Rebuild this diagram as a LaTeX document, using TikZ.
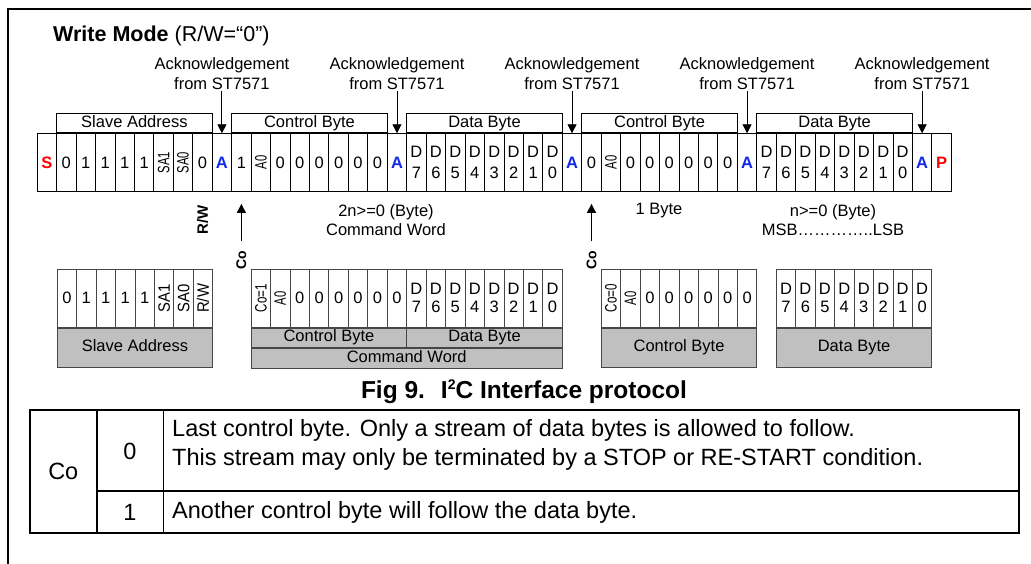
\documentclass[tikz,border=0pt]{standalone}
\usepackage{fontspec}
\setmainfont{Liberation Sans}
\usepackage{graphicx}
\usepackage{tikz}
\usetikzlibrary{arrows.meta, positioning}
\usepackage{xcolor}

\definecolor{ackblue}{RGB}{20,40,235}
\definecolor{boxgray}{RGB}{192,192,192}
\definecolor{edgegray}{RGB}{70,70,70}

\newcommand{\vtxt}[2][0.68]{\rotatebox{90}{\scalebox{#1}[1]{#2}}}
\newcommand{\sbit}{\textcolor{red}{\textbf{S}}}
\newcommand{\pbit}{\textcolor{red}{\textbf{P}}}
\newcommand{\abit}{\textcolor{ackblue}{\textbf{A}}}

\begin{document}
\begin{tikzpicture}[x=1pt, y=-1pt,
    bit/.style={draw, line width=0.9pt, minimum width=19.45pt, minimum height=57.7pt,
        inner sep=0pt, anchor=north west, align=center, font=\fontsize{16.5}{21}\selectfont},
    lowbit/.style={bit, draw=edgegray, font=\fontsize{16.5}{18}\selectfont},
    hdr/.style={draw, line width=0.9pt, minimum height=19.3pt, minimum width=155.6pt,
        inner sep=0pt, text height=12pt, text depth=3.5pt, anchor=south west,
        font=\fontsize{16.5}{20}\selectfont},
    bar/.style={draw=edgegray, fill=boxgray, line width=0.9pt, inner sep=0pt,
        text height=12pt, text depth=3.5pt, anchor=north west,
        font=\fontsize{16.5}{20}\selectfont},
    acklbl/.style={align=center, inner sep=1pt, font=\fontsize{16.5}{20}\selectfont},
    note/.style={align=center, inner sep=0pt, font=\fontsize{16.5}{19}\selectfont},
    side/.style={rotate=90, inner sep=1pt, font=\bfseries\fontsize{15}{18}\selectfont},
    arr/.style={line width=0.9pt, -{Triangle[length=9pt, width=9pt]}},
    cell/.style={inner sep=0pt, font=\fontsize{23.5}{28}\selectfont}]

    \useasboundingbox (0,0) rectangle (1031,564);

    % Frame
    \draw[line width=2pt] (8,600) -- (8,9) -- (1100,9);

    \node[anchor=base west, inner sep=0pt, font=\fontsize{21.5}{26}\selectfont] (title)
        at (53,42) {\textbf{Write Mode} (R/W=“0”)};

    % Bit stream
    \foreach \t [count=\i from 0] in {\sbit,0,1,1,1,1,{\vtxt{SA1}},{\vtxt{SA0}},0,\abit,
        1,{\vtxt{A0}},0,0,0,0,0,0,\abit,
        {D\\7},{D\\6},{D\\5},{D\\4},{D\\3},{D\\2},{D\\1},{D\\0},\abit,
        0,{\vtxt{A0}},0,0,0,0,0,0,\abit,
        {D\\7},{D\\6},{D\\5},{D\\4},{D\\3},{D\\2},{D\\1},{D\\0},\abit,\pbit}
        \node[bit] (c\i) at (36.7+19.45*\i, 133.3) {\t};

    % Byte headers
    \node[hdr] (hsa) at (c1.north west) {Slave Address};
    \node[hdr] (hcb1) at (c10.north west) {Control Byte};
    \node[hdr] (hdb1) at (c19.north west) {Data Byte};
    \node[hdr] (hcb2) at (c28.north west) {Control Byte};
    \node[hdr] (hdb2) at (c37.north west) {Data Byte};

    % Acknowledge arrows
    \foreach \a/\k in {9/1, 18/2, 27/3, 36/4, 45/5} {
        \node[acklbl] (k\k) at (c\a.north |- 0,74) {Acknowledgement\\from ST7571};
        \draw[arr] (k\k) -- (c\a.north);
    }

    % Labels under the stream
    \node[side] (rw) at (c8.south |- 0,220) {R/W};
    \node[side, font=\bfseries\fontsize{14}{16}\selectfont] (co1) at (c10.south |- 0,260) {Co};
    \node[side, font=\bfseries\fontsize{14}{16}\selectfont] (co2) at (c28.south |- 0,260) {Co};
    \coordinate (t1) at ([yshift=-12pt]c10.south);
    \coordinate (t2) at ([yshift=-12pt]c28.south);
    \draw[arr, shorten <=8pt] (co1.east) -- (t1);
    \draw[arr, shorten <=8pt] (co2.east) -- (t2);

    \node[note] (n1) at (386,220.5) {2n>=0 (Byte)\\Command Word};
    \node[note] (n2) at (659,211) {1 Byte};
    \node[note] (n3) at (833,220.5) {n>=0 (Byte)\\MSB…………..LSB};

    % Slave address block
    \foreach \t [count=\i from 0] in {0,1,1,1,1,{\vtxt[0.9]{SA1}},{\vtxt[0.9]{SA0}},{\vtxt[0.9]{R/W}}}
        \node[lowbit] (s\i) at (56.7+19.45*\i, 269) {\t};
    \node[bar, minimum width=155.6pt, minimum height=39.3pt] (sbar) at (s0.south west) {Slave Address};

    % Command word block
    \foreach \t [count=\i from 0] in {{\vtxt[0.7]{Co=1}},{\vtxt{A0}},0,0,0,0,0,0,
        {D\\7},{D\\6},{D\\5},{D\\4},{D\\3},{D\\2},{D\\1},{D\\0}}
        \node[lowbit] (w\i) at (250.65+19.45*\i, 269) {\t};
    \node[bar, minimum width=155.6pt, minimum height=19.3pt] (wcb) at (w0.south west) {Control Byte};
    \node[bar, minimum width=155.6pt, minimum height=19.3pt] (wdb) at (w8.south west) {Data Byte};
    \node[bar, minimum width=311.2pt, minimum height=20pt] (wcw) at (wcb.south west) {Command Word};

    % Control byte block
    \foreach \t [count=\i from 0] in {{\vtxt[0.7]{Co=0}},{\vtxt{A0}},0,0,0,0,0,0}
        \node[lowbit] (b\i) at (600.8+19.45*\i, 269) {\t};
    \node[bar, minimum width=155.6pt, minimum height=39.3pt] (bbar) at (b0.south west) {Control Byte};

    % Data byte block
    \foreach \t [count=\i from 0] in {{D\\7},{D\\6},{D\\5},{D\\4},{D\\3},{D\\2},{D\\1},{D\\0}}
        \node[lowbit] (d\i) at (775.8+19.45*\i, 269) {\t};
    \node[bar, minimum width=155.6pt, minimum height=39.3pt] (dbar) at (d0.south west) {Data Byte};

    \node[anchor=base, inner sep=0pt, font=\bfseries\fontsize{24.5}{29}\selectfont] (cap)
        at (524,398) {Fig 9.\hspace{16pt}I\raisebox{0.35em}{\fontsize{14}{16}\selectfont 2}C Interface protocol};

    % Co table
    \draw[line width=1.6pt] (30,410) rectangle (1019,533);
    \draw[line width=1.6pt] (96.7,410) -- (96.7,533) (163.3,410) -- (163.3,533)
        (96.7,490.7) -- (1019,490.7);
    \node[cell] (tco) at (63.3,471.5) {Co};
    \node[cell] (tzero) at (130,451) {0};
    \node[cell] (tone) at (130,512) {1};
    \node[cell, anchor=west] (r1) at (172,430) {Last control byte. Only a stream of data bytes is allowed to follow.};
    \node[cell, anchor=west] (r2) at (172,459) {This stream may only be terminated by a STOP or RE-START condition.};
    \node[cell, anchor=west] (r3) at (172,512) {Another control byte will follow the data byte.};

\end{tikzpicture}
\end{document}
